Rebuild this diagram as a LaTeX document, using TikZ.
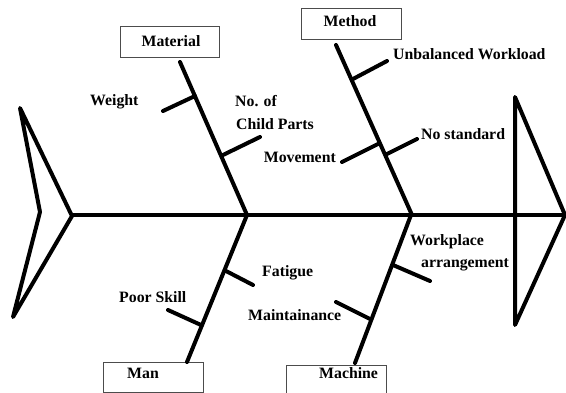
\documentclass[tikz,border=0pt]{standalone}
\usepackage{fontspec}
\setmainfont{Liberation Serif}
\begin{document}
\begin{tikzpicture}[x=1pt,y=-1pt,
  bone/.style={line width=4pt,line cap=round,black},
  spine/.style={line width=4.5pt,black},
  fin/.style={line width=4pt,line join=round,line cap=round,black},
  catbox/.style={draw=black!70,line width=0.8pt,inner sep=0pt},
  lbl/.style={font=\fontsize{15.8}{19}\selectfont\bfseries,inner sep=0pt,text=black}]
\useasboundingbox (0,0) rectangle (566,393);

% tail and head
\draw[fin] (20,108) -- (72,216) -- (13,317) -- (40,212) -- cycle;
\draw[fin] (515,97) -- (565,215) -- (515,325) -- cycle;

% spine points
\coordinate (tail) at (72,215);
\coordinate (head) at (565,215);
\draw[spine] (tail) -- (head);

% category boxes
\node[catbox,minimum width=99pt,minimum height=31pt] (matbox) at (169.5,41.5) {};
\node[catbox,minimum width=100pt,minimum height=31pt] (metbox) at (351,23.5) {};
\node[catbox,minimum width=100pt,minimum height=30pt] (manbox) at (153,377) {};
\node[catbox,minimum width=100pt,minimum height=30pt] (macbox) at (336,380) {};

\node[lbl,anchor=base] (mattxt) at (171,47) {Material};
\node[lbl,anchor=base] (mettxt) at (350,27) {Method};
\node[lbl,anchor=base] (mantxt) at (143,379) {Man};
\node[lbl,anchor=base west] (mactxt) at (319,379) {Machine};

% main bones
\coordinate (matTop) at (180,62);
\coordinate (matJ) at (247,215);
\coordinate (metTop) at (336,45);
\coordinate (metJ) at (412,215);
\coordinate (manBot) at (187,362);
\coordinate (manJ) at (247,215);
\coordinate (macBot) at (355,363);
\coordinate (macJ) at (411,215);
\draw[bone] (matTop) -- (matJ);
\draw[bone] (metTop) -- (metJ);
\draw[bone] (manBot) -- (manJ);
\draw[bone] (macBot) -- (macJ);

% sub-bones
\coordinate (w1) at (195,96);   \coordinate (w2) at (163,111);
\coordinate (c1) at (223,155);  \coordinate (c2) at (260,137);
\coordinate (u1) at (353,79);   \coordinate (u2) at (387,61);
\coordinate (n1) at (387,154);  \coordinate (n2) at (417,139);
\coordinate (m1) at (378,144);  \coordinate (m2) at (342,162);
\coordinate (f1) at (226,271);  \coordinate (f2) at (253,285);
\coordinate (p1) at (201,325);  \coordinate (p2) at (168,310);
\coordinate (a1) at (393,265);  \coordinate (a2) at (430,281);
\coordinate (t1) at (370,319);  \coordinate (t2) at (336,302);
\foreach \s/\e in {w1/w2,c1/c2,u1/u2,n1/n2,m1/m2,f1/f2,p1/p2,a1/a2,t1/t2}
  \draw[bone] (\s) -- (\e);

% cause labels
\node[lbl,anchor=base west] (weight) at (90,106) {Weight};
\node[lbl,anchor=base west] (noof) at (235,107) {No. of};
\node[lbl,anchor=base west] (child) at (236,130) {Child Parts};
\node[lbl,anchor=base west] (unbal) at (393,60) {Unbalanced Workload};
\node[lbl,anchor=base west] (nostd) at (421,140) {No standard};
\node[lbl,anchor=base east] (move) at (336,163) {Movement};
\node[lbl,anchor=base west] (fatigue) at (262,277) {Fatigue};
\node[lbl,anchor=base west] (poor) at (119,303) {Poor Skill};
\node[lbl,anchor=base west] (maint) at (248,321) {Maintainance};
\node[lbl,anchor=base west] (work) at (410,246) {Workplace};
\node[lbl,anchor=base west] (arr) at (421,268) {arrangement};
\end{tikzpicture}
\end{document}
